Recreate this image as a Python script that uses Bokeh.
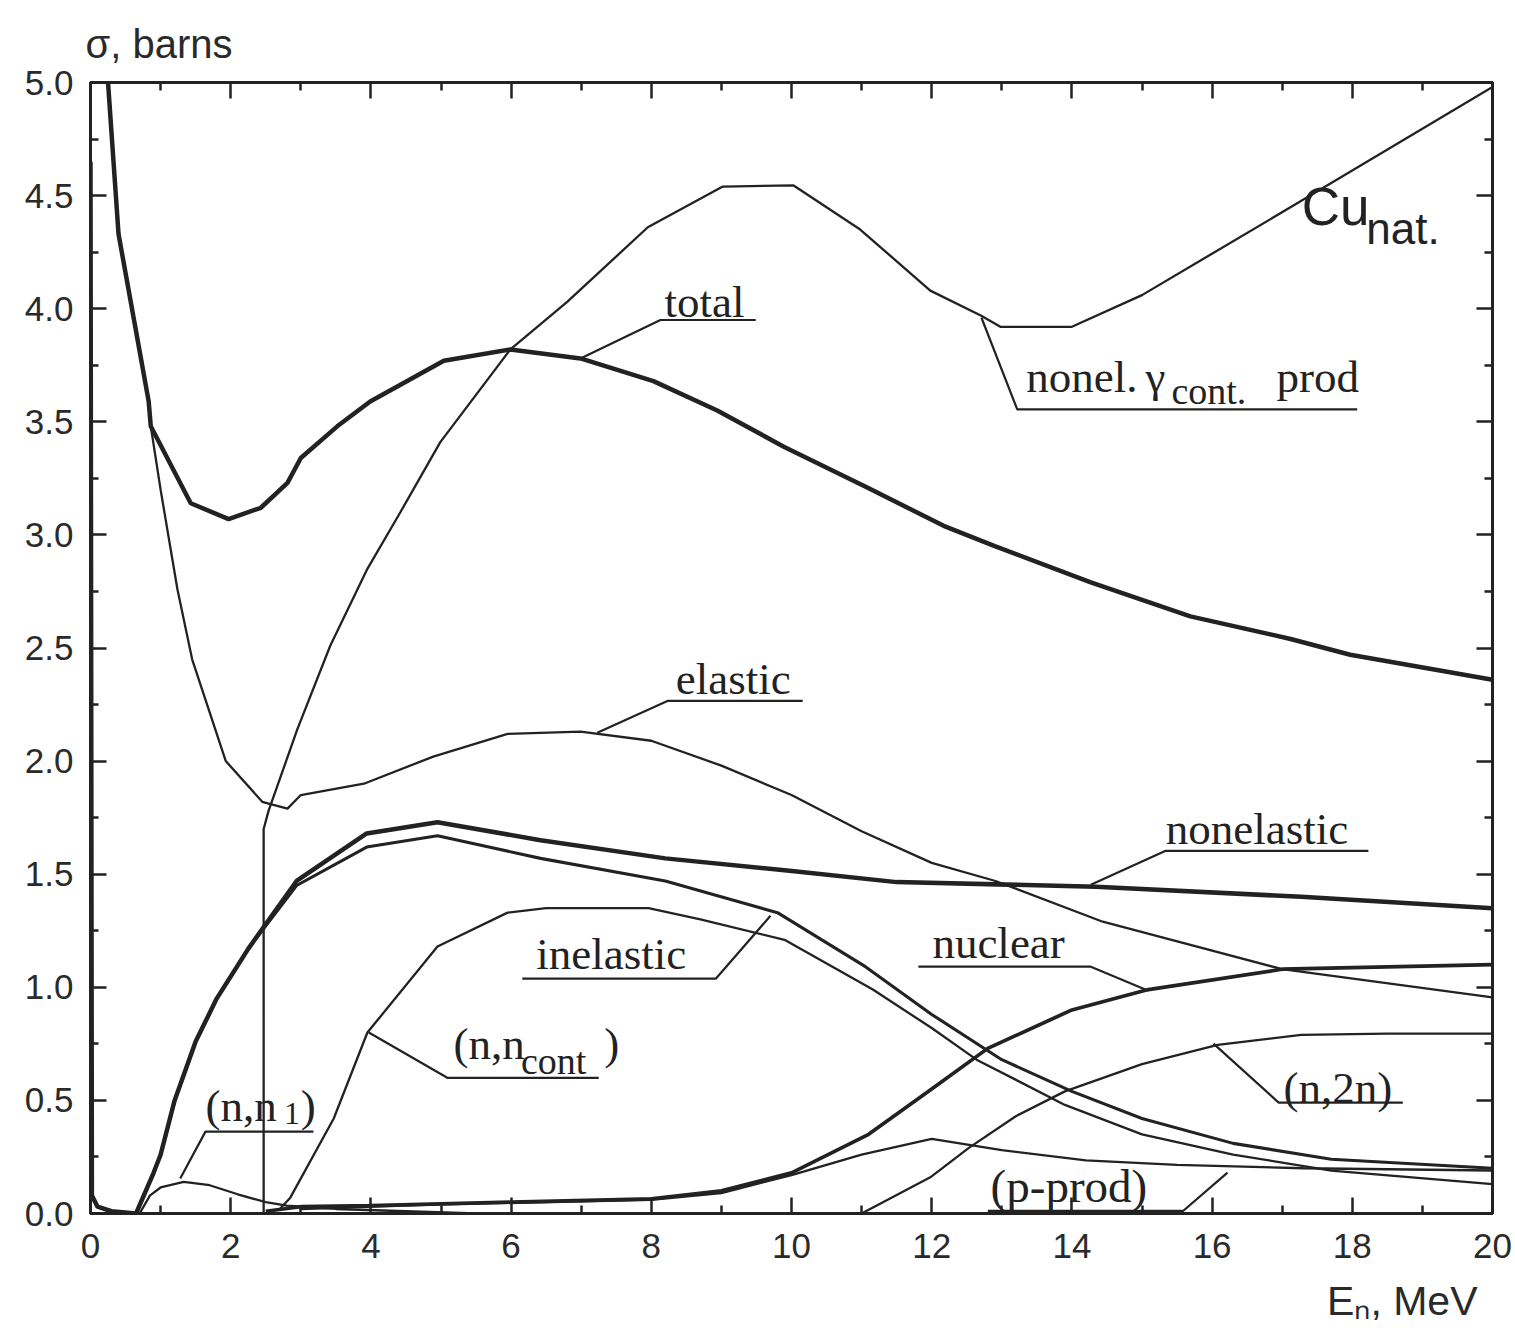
from bokeh.plotting import figure
from bokeh.models import (Range1d, LinearAxis, FixedTicker, Label, Title,
                          PrintfTickFormatter, CustomJSTickFormatter)
from bokeh.embed import file_html
from bokeh.resources import INLINE

# ---------------- data ----------------
total_E = [0.25, 0.40, 0.83, 0.86, 1.43, 1.97, 2.43, 2.81, 3.0, 3.52, 3.99, 5.04, 5.99, 6.99, 8.03, 8.94, 9.89, 11.08, 12.17, 12.9, 14.27, 15.69, 17.12, 17.97, 20.0]
total_s = [5.00, 4.33, 3.59, 3.48, 3.14, 3.07, 3.12, 3.23, 3.34, 3.48, 3.59, 3.77, 3.82, 3.78, 3.68, 3.55, 3.39, 3.21, 3.04, 2.95, 2.79, 2.64, 2.54, 2.47, 2.36]

elastic_E = [0.25, 0.40, 0.83, 0.86, 1.0, 1.24, 1.45, 1.93, 2.45, 2.81, 3.0, 3.9, 4.89, 5.95, 6.99, 8.0, 9.0, 10.0, 11.0, 12.0, 12.91, 14.44, 17.0, 20.0]
elastic_s = [5.00, 4.33, 3.59, 3.48, 3.20, 2.76, 2.45, 2.00, 1.82, 1.79, 1.85, 1.90, 2.02, 2.12, 2.13, 2.09, 1.98, 1.85, 1.69, 1.55, 1.47, 1.29, 1.08, 0.955]

gamma_E = [2.47, 2.47, 2.54, 2.95, 3.42, 3.95, 4.42, 4.99, 5.99, 6.8, 7.95, 9.02, 10.03, 10.98, 11.98, 12.7, 12.98, 14.0, 15.0, 17.4, 20.0]
gamma_s = [0.0, 1.70, 1.78, 2.14, 2.51, 2.85, 3.10, 3.41, 3.82, 4.03, 4.36, 4.54, 4.545, 4.35, 4.08, 3.97, 3.92, 3.92, 4.06, 4.50, 4.98]

nonel_E = [0.0, 0.02, 0.1, 0.3, 0.65, 0.9, 1.0, 1.2, 1.5, 1.8, 2.25, 2.94, 3.94, 4.95, 6.42, 8.2, 9.97, 11.5, 14.34, 17.27, 20.0]
nonel_s = [4.65, 0.08, 0.03, 0.01, 0.0, 0.18, 0.26, 0.50, 0.76, 0.95, 1.17, 1.47, 1.68, 1.73, 1.65, 1.57, 1.515, 1.465, 1.445, 1.40, 1.35]

inel_E = [0.65, 0.9, 1.0, 1.2, 1.5, 1.8, 2.25, 2.94, 3.94, 4.95, 6.42, 8.2, 9.8, 11.06, 12.0, 13.0, 14.0, 15.0, 16.3, 17.7, 20.0]
inel_s = [0.0, 0.18, 0.26, 0.50, 0.76, 0.95, 1.17, 1.45, 1.62, 1.67, 1.57, 1.47, 1.33, 1.09, 0.88, 0.68, 0.54, 0.42, 0.31, 0.24, 0.20]

ncont_E = [2.7, 2.85, 3.47, 3.95, 4.95, 5.95, 6.5, 7.96, 8.7, 9.9, 11.16, 12.0, 12.64, 13.9, 15.0, 16.3, 17.7, 20.0]
ncont_s = [0.02, 0.07, 0.42, 0.80, 1.18, 1.33, 1.35, 1.35, 1.30, 1.21, 0.99, 0.82, 0.68, 0.48, 0.35, 0.26, 0.19, 0.13]

nuclear_E = [2.5, 3.0, 4.0, 6.0, 8.0, 9.0, 10.0, 11.1, 12.0, 12.8, 14.0, 15.09, 17.0, 20.0]
nuclear_s = [0.01, 0.03, 0.035, 0.05, 0.065, 0.10, 0.18, 0.35, 0.55, 0.73, 0.90, 0.99, 1.08, 1.10]

n2n_E = [11.0, 11.98, 12.53, 13.2, 13.9, 15.0, 16.08, 17.27, 18.5, 20.0]
n2n_s = [0.0, 0.16, 0.29, 0.43, 0.54, 0.66, 0.745, 0.79, 0.795, 0.795]

pprod_E = [3.0, 5.0, 8.0, 9.0, 10.0, 11.0, 12.0, 13.0, 14.2, 15.5, 17.3, 20.0]
pprod_s = [0.02, 0.04, 0.06, 0.09, 0.17, 0.26, 0.33, 0.28, 0.235, 0.215, 0.20, 0.19]

nn1_E = [0.7, 0.85, 1.0, 1.33, 1.7, 2.1, 2.5, 2.8, 3.5, 4.5, 5.5]
nn1_s = [0.0, 0.08, 0.115, 0.14, 0.125, 0.085, 0.05, 0.035, 0.02, 0.01, 0.0]

x_major = [0, 2, 4, 6, 8, 10, 12, 14, 16, 18, 20]
x_minor = [1, 3, 5, 7, 9, 11, 13, 15, 17, 19]
y_major = [0.0, 0.5, 1.0, 1.5, 2.0, 2.5, 3.0, 3.5, 4.0, 4.5, 5.0]
y_minor = [0.25, 0.75, 1.25, 1.75, 2.25, 2.75, 3.25, 3.75, 4.25, 4.75]

# label leader lines (annotation anchors, data units)
leaders = {
    "total":      ([6.99, 8.13, 9.49], [3.78, 3.95, 3.95]),
    "elastic":    ([7.23, 8.23, 10.16], [2.125, 2.266, 2.266]),
    "gamma":      ([12.71, 13.22, 18.07], [3.96, 3.555, 3.555]),
    "nonelastic": ([14.27, 15.33, 18.23], [1.453, 1.603, 1.603]),
    "nuclear":    ([11.81, 14.27, 15.09], [1.091, 1.091, 0.985]),
    "inelastic":  ([6.16, 8.92, 9.7], [1.038, 1.038, 1.316]),
    "ncont":      ([3.97, 5.09, 7.25], [0.80, 0.60, 0.60]),
    "nn1":        ([1.28, 1.64, 3.18], [0.155, 0.362, 0.362]),
    "n2n":        ([16.02, 16.95, 18.72], [0.751, 0.49, 0.49]),
    "pprod":      ([12.8, 15.59, 16.22], [0.012, 0.012, 0.181]),
}

INK = "#222222"
SERIF = "Liberation Serif"
SANS = "Liberation Sans"

p = figure(width=1512, height=1340, output_backend="svg", toolbar_location=None,
           x_range=Range1d(0, 20), y_range=Range1d(0, 5),
           min_border_left=90, min_border_right=20, min_border_top=82, min_border_bottom=127)
p.grid.visible = False
p.background_fill_color = "white"
p.border_fill_color = "white"
p.outline_line_color = INK
p.outline_line_width = 3

bottom = p.below[0]
left = p.left[0]

xt = FixedTicker(ticks=x_major, minor_ticks=x_minor)
yt = FixedTicker(ticks=y_major, minor_ticks=y_minor)
blank = CustomJSTickFormatter(code="return ''")

bottom.ticker = xt
left.ticker = yt
left.formatter = PrintfTickFormatter(format="%.1f")
bottom.formatter = PrintfTickFormatter(format="%d")

top = LinearAxis(ticker=xt, formatter=blank, major_label_standoff=0)
right = LinearAxis(ticker=yt, formatter=blank, major_label_standoff=0)
p.add_layout(top, "above")
p.add_layout(right, "right")

for ax in [bottom, left, top, right]:
    ax.axis_line_color = INK
    ax.axis_line_width = 3
    ax.major_tick_in = 16
    ax.major_tick_out = 0
    ax.minor_tick_in = 8
    ax.minor_tick_out = 0
    ax.major_tick_line_color = INK
    ax.minor_tick_line_color = INK
    ax.major_tick_line_width = 2.5
    ax.minor_tick_line_width = 2.5

for ax in [bottom, left]:
    ax.major_label_text_font = SANS
    ax.major_label_text_font_size = "35px"
    ax.major_label_text_color = "#2a2a2a"
bottom.major_label_standoff = 20
left.major_label_standoff = 17

# axis titles as plot titles (outside the frame)
p.add_layout(Title(text="σ, barns", align="left", offset=-5, text_font=SANS,
                   text_font_size="40px", text_font_style="normal", text_color="#2a2a2a",
                   standoff=33), "above")
p.add_layout(Title(text="Eₙ, MeV", align="right", offset=15, text_font=SANS,
                   text_font_size="41px", text_font_style="normal", text_color="#2a2a2a",
                   standoff=30), "below")

THICK = 4.5
THIN = 2.3
p.line(total_E, total_s, line_color=INK, line_width=THICK)
p.line(elastic_E, elastic_s, line_color=INK, line_width=THIN)
p.line(gamma_E, gamma_s, line_color=INK, line_width=THIN)
p.line(nonel_E, nonel_s, line_color=INK, line_width=THICK)
p.line(inel_E, inel_s, line_color=INK, line_width=THIN + 0.8)
p.line(ncont_E, ncont_s, line_color=INK, line_width=THIN)
p.line(nuclear_E, nuclear_s, line_color=INK, line_width=THICK - 0.8)
p.line(n2n_E, n2n_s, line_color=INK, line_width=THIN)
p.line(pprod_E, pprod_s, line_color=INK, line_width=THIN)
p.line(nn1_E, nn1_s, line_color=INK, line_width=THIN)

for xs, ys in leaders.values():
    p.line(xs, ys, line_color=INK, line_width=2.2)


def lab(x, y, text, size="45px", font=SERIF, align="left"):
    p.add_layout(Label(x=x, y=y, text=text, text_font=font, text_font_size=size,
                       text_color=INK, text_baseline="alphabetic", text_align=align))


lab(8.19, 4.03, "total")
lab(8.35, 2.363, "elastic")
lab(13.35, 3.70, "nonel.")
lab(15.05, 3.70, "γ")
lab(15.42, 3.635, "cont.", size="38px")
lab(16.92, 3.70, "prod")
lab(15.34, 1.70, "nonelastic")
lab(12.01, 1.197, "nuclear")
lab(6.36, 1.148, "inelastic")
lab(5.18, 0.751, "(n,n")
lab(6.14, 0.676, "cont", size="38px")
lab(7.33, 0.751, ")")
lab(1.64, 0.477, "(n,n")
lab(2.76, 0.44, "1", size="32px")
lab(3.0, 0.477, ")")
lab(17.02, 0.557, "(n,2n)")
lab(12.84, 0.12, "(p-prod)", size="47px")

lab(17.28, 4.452, "Cu", size="53px", font=SANS)
lab(18.2, 4.355, "nat.", size="44px", font=SANS)

open("out.html", "w").write(file_html(p, INLINE))
